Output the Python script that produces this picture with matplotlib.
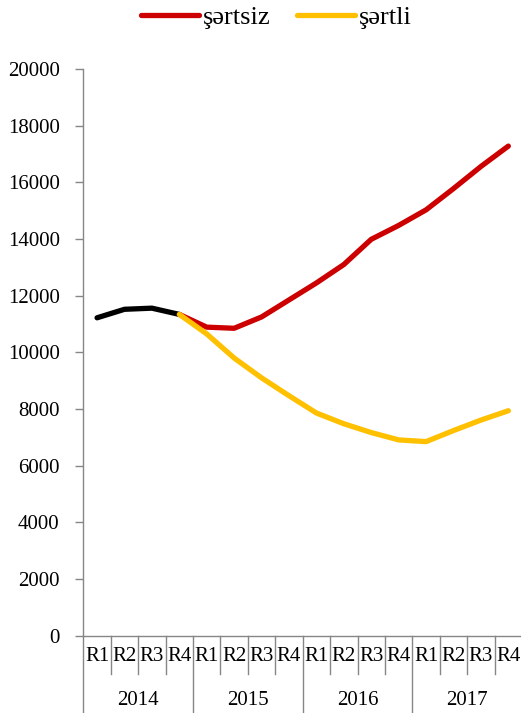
import matplotlib.pyplot as plt
import numpy as np

# =========================
# Dados
# =========================
anos = ["2014", "2015", "2016", "2017"]
rublar = ["R1", "R2", "R3", "R4"]

# 2014 (faktiki) - qara xətt
tarix = [11220, 11520, 11560, 11340]

# 2014 R4 - 2017 R4
sertsiz = [11340, 10890, 10850, 11250, 11850, 12450, 13100, 13990,
           14480, 15030, 15780, 16560, 17280]
sertli = [11340, 10650, 9800, 9100, 8470, 7860, 7480, 7170,
          6910, 6850, 7240, 7610, 7940]

plt.rcParams['font.family'] = ['Liberation Serif', 'DejaVu Serif']

fig = plt.figure(figsize=(5.21, 7.13), dpi=100)
ax = fig.add_axes([0.16, 0.1084, 0.842, 0.7948])

n = len(anos) * len(rublar)
x = np.arange(n) + 0.5

ax.plot(x[3:], sertsiz, color="#CC0000", lw=3.8, solid_capstyle="round",
        solid_joinstyle="round", label="şərtsiz", zorder=3)
ax.plot(x[:4], tarix, color="black", lw=3.8, solid_capstyle="round",
        solid_joinstyle="round", zorder=4)
ax.plot(x[3:], sertli, color="#FFC000", lw=3.8, solid_capstyle="round",
        solid_joinstyle="round", label="şərtli", zorder=5)

ax.set_xlim(0, n)
ax.set_ylim(0, 20000)
ax.set_yticks(range(0, 20001, 2000))
ax.tick_params(axis="y", labelsize=15, length=6, width=1, color="#868686", pad=11)
ax.set_xticks([])

for s in ["top", "right"]:
    ax.spines[s].set_visible(False)
for s in ["left", "bottom"]:
    ax.spines[s].set_color("#868686")
    ax.spines[s].set_linewidth(1)

# =========================
# Eixo de categorias (2 níveis)
# =========================
trans = ax.get_xaxis_transform()
for i in range(n):
    ax.text(x[i], -0.036, rublar[i % 4], transform=trans, ha="center",
            va="center", fontsize=15)
for j, ano in enumerate(anos):
    ax.text(j * 4 + 2, -0.114, ano, transform=trans, ha="center",
            va="center", fontsize=15)

for i in range(n):
    if i % 4 == 0:
        ax.plot([i, i], [0, -0.137], transform=trans, color="#868686",
                lw=1, clip_on=False)
    else:
        ax.plot([i, i], [0, -0.068], transform=trans, color="#868686",
                lw=1, clip_on=False)

fig.legend(loc="upper center", bbox_to_anchor=(0.53, 1.025), ncol=2,
           frameon=False, fontsize=19, handlelength=2.2, handletextpad=0.15,
           columnspacing=1.0)

plt.savefig("out.png", dpi=100)
